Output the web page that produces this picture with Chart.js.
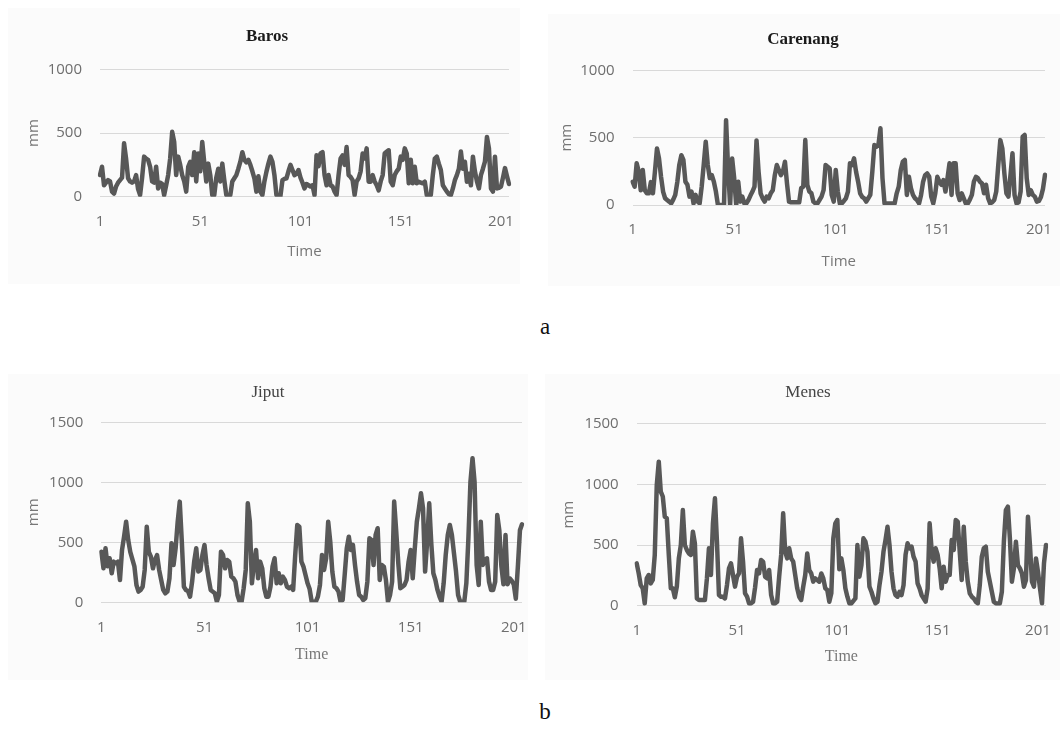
<!DOCTYPE html>
<html>
<head>
<meta charset="utf-8">
<title>Rainfall series</title>
<script src="https://cdn.jsdelivr.net/npm/chart.js@4.4.1/dist/chart.umd.min.js"></script>
<style>
  body { margin: 0; background: #fff; }
  #page { position: relative; width: 1063px; height: 733px; overflow: hidden; }
  .panel { position: absolute; background: #fbfbfb; }
  canvas { position: absolute; }
  .title {
    position: absolute;
    width: 240px;
    text-align: center;
    font-family: "Liberation Serif", "DejaVu Serif", serif;
    font-size: 17px;
    line-height: 17px;
  }
  .title--bold { font-weight: bold; color: #1a1a1a; }
  .title--plain { color: #444; }
  .label {
    position: absolute;
    width: 40px;
    text-align: center;
    font-family: "Liberation Serif", "DejaVu Serif", serif;
    font-size: 23px;
    line-height: 23px;
    color: #111;
  }
</style>
</head>
<body>
<div id="page">
  <div class="panel" style="left:8px;top:8px;width:512px;height:276px"></div>
  <div class="panel" style="left:548px;top:14px;width:512px;height:272px"></div>
  <div class="panel" style="left:8px;top:374px;width:520px;height:306px"></div>
  <div class="panel" style="left:545px;top:374px;width:515px;height:306px"></div>

  <canvas id="barosChart" width="512" height="276" style="left:8px;top:8px"></canvas>
  <canvas id="carenangChart" width="515" height="280" style="left:545px;top:10px"></canvas>
  <canvas id="jiputChart" width="520" height="305" style="left:8px;top:378px"></canvas>
  <canvas id="menesChart" width="515" height="305" style="left:545px;top:378px"></canvas>

  <div class="title title--bold" style="left:147px;top:27px">Baros</div>
  <div class="title title--bold" style="left:683px;top:30px">Carenang</div>
  <div class="title title--plain" style="left:148px;top:383px">Jiput</div>
  <div class="title title--plain" style="left:688px;top:383px">Menes</div>

  <div class="label" style="left:525px;top:315px">a</div>
  <div class="label" style="left:525px;top:700px">b</div>
</div>

<script>
// monthly rainfall (mm)
const barosValues = [
  170, 235, 90, 110, 130, 120, 40, 25, 80, 110,
  130, 150, 420, 300, 145, 120, 110, 120, 170, 60,
  13, 150, 315, 300, 290, 235, 120, 110, 235, 65,
  110, 100, 13, 90, 170, 300, 510, 430, 170, 315,
  250, 170, 120, 40, 235, 275, 170, 350, 120, 340,
  200, 430, 270, 120, 260, 170, 13, 13, 150, 220,
  120, 260, 130, 13, 10, 13, 120, 145, 170, 220,
  275, 350, 290, 270, 290, 250, 200, 145, 40, 160,
  40, 13, 120, 195, 260, 315, 275, 170, 13, 5,
  5, 130, 140, 145, 200, 250, 210, 170, 180, 210,
  150, 110, 65, 100, 90, 80, 90, 13, 325, 240,
  340, 350, 170, 90, 170, 90, 80, 40, 13, 170,
  300, 325, 250, 390, 170, 155, 130, 13, 120, 145,
  200, 340, 300, 380, 118, 118, 170, 120, 90, 50,
  120, 170, 340, 355, 365, 118, 90, 170, 200, 220,
  315, 290, 380, 340, 105, 290, 105, 235, 105, 118,
  110, 105, 118, 13, 5, 13, 170, 300, 315, 260,
  210, 90, 65, 40, 20, 13, 65, 130, 170, 220,
  355, 220, 275, 118, 180, 90, 315, 200, 120, 65,
  170, 220, 275, 470, 380, 65, 40, 315, 65, 70,
  80, 150, 225, 160, 100,
];

const carenangValues = [
  173, 136, 310, 250, 110, 260, 110, 87, 87, 170,
  87, 250, 420, 345, 210, 100, 50, 37, 25, 12,
  40, 75, 170, 300, 370, 335, 173, 150, 62, 100,
  12, 75, 25, 12, 136, 297, 470, 297, 200, 222,
  173, 100, 0, 0, 0, 0, 630, 272, 0, 345,
  200, 0, 173, 25, 62, 12, 12, 37, 70, 100,
  136, 480, 250, 87, 50, 25, 62, 50, 87, 110,
  222, 297, 260, 222, 250, 322, 160, 25, 20, 20,
  20, 20, 20, 125, 136, 482, 150, 100, 87, 25,
  12, 12, 37, 62, 110, 297, 285, 272, 75, 25,
  260, 100, 12, 12, 30, 50, 100, 310, 297, 346,
  247, 173, 87, 60, 50, 25, 50, 75, 247, 445,
  433, 445, 570, 200, 12, 12, 12, 12, 12, 12,
  87, 136, 260, 322, 335, 75, 210, 125, 75, 50,
  37, 12, 75, 173, 222, 235, 210, 62, 12, 87,
  210, 173, 150, 185, 100, 198, 310, 75, 310, 310,
  87, 37, 87, 50, 12, 12, 40, 75, 173, 210,
  198, 173, 160, 87, 150, 50, 12, 20, 37, 100,
  297, 482, 420, 235, 87, 62, 222, 384, 75, 12,
  20, 100, 507, 520, 198, 75, 110, 75, 62, 25,
  30, 60, 120, 224,
];

const jiputValues = [
  422, 283, 450, 300, 367, 242, 339, 325, 339, 186,
  436, 547, 672, 520, 420, 360, 300, 144, 89, 103,
  130, 270, 630, 420, 380, 283, 353, 394, 270, 186,
  103, 75, 89, 200, 492, 311, 450, 672, 839, 505,
  130, 103, 94, 47, 172, 339, 450, 256, 270, 394,
  478, 311, 200, 103, 89, 75, 5, 61, 422, 394,
  283, 353, 339, 214, 200, 172, 61, 5, 5, 117,
  270, 825, 672, 158, 325, 436, 200, 339, 283, 117,
  47, 47, 130, 297, 367, 158, 242, 158, 214, 186,
  130, 117, 130, 103, 394, 644, 630, 339, 297, 228,
  158, 110, 5, 5, 5, 47, 144, 394, 270, 367,
  672, 505, 256, 130, 117, 89, 5, 19, 228, 450,
  547, 436, 478, 311, 172, 61, 47, 19, 33, 172,
  533, 519, 311, 561, 617, 186, 311, 297, 186, 5,
  61, 172, 839, 589, 325, 117, 130, 144, 186, 339,
  436, 200, 450, 672, 783, 908, 783, 256, 505, 825,
  492, 242, 186, 103, 47, 5, 158, 394, 561, 644,
  561, 408, 256, 61, 5, 5, 5, 158, 533, 1005,
  1200, 1000, 311, 144, 672, 311, 353, 367, 172, 103,
  103, 172, 728, 600, 300, 150, 560, 150, 200, 180,
  150, 30, 300, 600, 650,
];

const menesValues = [
  349, 266, 170, 143, 19, 225, 253, 184, 212, 418,
  994, 1187, 940, 900, 733, 720, 418, 143, 143, 69,
  157, 390, 500, 788, 500, 459, 431, 418, 610, 514,
  60, 47, 47, 47, 47, 225, 473, 253, 679, 885,
  527, 88, 74, 74, 60, 170, 308, 349, 253, 157,
  239, 266, 555, 363, 102, 74, 19, 19, 33, 150,
  294, 266, 376, 363, 239, 225, 294, 88, 19, 19,
  33, 239, 418, 761, 445, 390, 473, 390, 363, 253,
  143, 74, 47, 157, 253, 431, 294, 266, 198, 225,
  212, 198, 266, 225, 143, 129, 33, 102, 555, 679,
  706, 300, 390, 294, 143, 74, 19, 19, 40, 60,
  500, 239, 335, 555, 527, 445, 157, 115, 60, 19,
  33, 170, 280, 445, 541, 651, 500, 280, 143, 88,
  74, 115, 88, 170, 418, 514, 473, 486, 404, 363,
  184, 143, 88, 60, 33, 140, 679, 459, 363, 473,
  418, 308, 143, 321, 198, 253, 253, 541, 459, 706,
  692, 445, 212, 651, 363, 198, 102, 74, 60, 33,
  19, 170, 404, 473, 486, 280, 198, 115, 33, 19,
  19, 19, 115, 527, 788, 816, 555, 198, 308, 527,
  335, 308, 266, 157, 212, 733, 500, 198, 157, 390,
  280, 143, 20, 350, 500,
];

const xTickLabels = ["1", "51", "101", "151", "201"];
const yTicksTop = [0, 500, 1000];
const yTicksBottom = [0, 500, 1000, 1500];

const lineColor = "#585858";
const gridColor = "#d9d9d9";
const tickColor = "#6e6e6e";

Chart.defaults.font.family = "'Open Sans', 'DejaVu Sans', sans-serif";
Chart.defaults.animation = false;

function makeChart(canvasId, values, yTicks, box) {
  const ctx = document.getElementById(canvasId).getContext("2d");
  const labels = values.map((v, i) => String(i + 1));

  return new Chart(ctx, {
    type: "line",
    data: {
      labels: labels,
      datasets: [
        {
          data: values,
          borderColor: lineColor,
          borderWidth: 4.5,
          borderJoinStyle: "round",
          borderCapStyle: "round",
          pointRadius: 0,
          tension: 0,
          fill: false,
        },
      ],
    },
    options: {
      responsive: false,
      devicePixelRatio: 1,
      layout: {
        padding: { left: 0, right: box.padRight, top: box.padTop, bottom: 0 },
      },
      plugins: {
        legend: { display: false },
        tooltip: { enabled: false },
      },
      scales: {
        x: {
          type: "category",
          offset: false,
          grid: { display: false, drawTicks: false },
          border: { display: false },
          ticks: {
            autoSkip: false,
            maxRotation: 0,
            padding: 16,
            color: tickColor,
            font: { size: 15 },
            callback: (val, idx) =>
              xTickLabels.includes(labels[idx]) ? labels[idx] : null,
          },
          title: {
            display: true,
            text: "Time",
            color: "#777",
            font: box.timeFont,
            padding: { top: 0, bottom: box.timePad },
          },
          afterFit: (scale) => {
            scale.height = box.xHeight;
            // let the plot run right up to the layout padding
            scale.paddingLeft = 0;
            scale.paddingRight = 0;
          },
        },
        y: {
          min: yTicks[0],
          max: yTicks[yTicks.length - 1],
          grid: { color: gridColor, lineWidth: 1, drawTicks: false },
          border: { display: false },
          ticks: {
            stepSize: yTicks[1] - yTicks[0],
            padding: 18,
            color: tickColor,
            font: { size: 15 },
            callback: (v) => String(v),
          },
          title: {
            display: true,
            text: "mm",
            color: "#777",
            font: { size: 15 },
            padding: { top: box.mmPad, bottom: 0 },
          },
          afterFit: (scale) => {
            scale.width = box.yWidth;
          },
        },
      },
    },
  });
}

const sansTime = { size: 15 };
const serifTime = { size: 16, family: "'Liberation Serif', 'DejaVu Serif', serif" };

makeChart("barosChart", barosValues, yTicksTop, {
  yWidth: 92, padRight: 11, padTop: 61.5, xHeight: 87.3,
  mmPad: 17, timePad: 23, timeFont: sansTime,
});

makeChart("carenangChart", carenangValues, yTicksTop, {
  yWidth: 87.6, padRight: 15, padTop: 60.4, xHeight: 85,
  mmPad: 13, timePad: 19, timeFont: sansTime,
});

makeChart("jiputChart", jiputValues, yTicksBottom, {
  yWidth: 93.4, padRight: 6, padTop: 44.3, xHeight: 80.7,
  mmPad: 17, timePad: 19, timeFont: serifTime,
});

makeChart("menesChart", menesValues, yTicksBottom, {
  yWidth: 91.7, padRight: 14, padTop: 45.7, xHeight: 77.3,
  mmPad: 15, timePad: 17, timeFont: serifTime,
});
</script>
</body>
</html>
